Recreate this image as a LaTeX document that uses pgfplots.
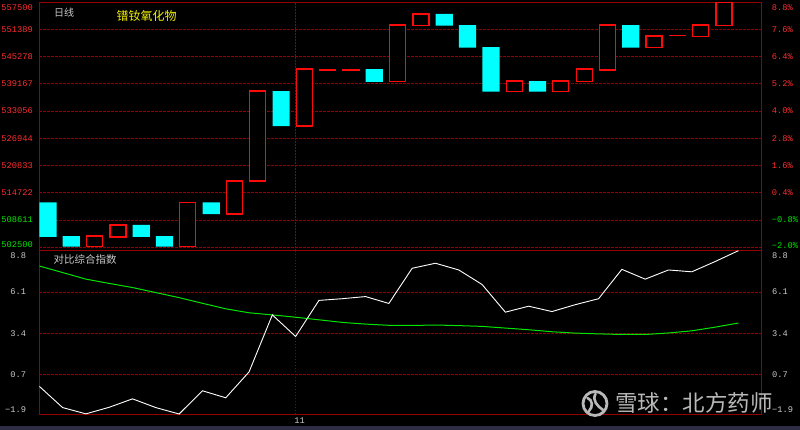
\documentclass[border=0pt]{standalone}
\usepackage{fontspec}
\setmainfont{Liberation Mono}
\newfontfamily\cjk{Noto Sans CJK SC}
\usepackage{pgfplots}
\usepackage{pgfplotstable}
\pgfplotsset{compat=1.18}

\definecolor{frame}{RGB}{150,0,0}
\definecolor{gridred}{RGB}{150,0,0}
\definecolor{upred}{RGB}{255,10,10}
\definecolor{downcyan}{RGB}{0,255,255}
\definecolor{lblred}{RGB}{255,45,45}
\definecolor{lblgreen}{RGB}{0,230,0}
\definecolor{lblgrey}{RGB}{200,200,200}
\definecolor{idxgreen}{RGB}{0,230,0}
\definecolor{titleyellow}{RGB}{240,240,0}
\definecolor{wm}{RGB}{185,185,185}
\definecolor{strip}{RGB}{45,45,70}

% daily candle bodies (price low/high of the body)
% red (close above open), drawn hollow
\pgfplotstableread{
i lo hi
2 502602 504995
3 504792 507491
6 502602 512583
8 509935 517370
9 517370 537537
11 529694 542477
12 542273 542273
13 542273 542273
15 539625 552357
16 552204 554852
20 537384 539778
22 537384 539778
23 539625 542477
24 542273 552357
26 547264 549912
27 549963 549963
28 549759 552357
29 552204 557347
}\upcandles
% cyan (close below open), drawn filled
\pgfplotstableread{
i lo hi
0 504843 512583
1 502602 504995
4 504792 507491
5 502602 504995
7 509935 512583
10 529694 537537
14 539574 542477
17 552204 554852
18 547264 552357
19 537384 547417
21 537384 539778
25 547264 552357
}\downcandles

% comparison index: white line and green line
\pgfplotstableread{
k w g
0 -0.07 7.80
1 -1.46 7.37
2 -1.87 6.94
3 -1.44 6.66
4 -0.89 6.39
5 -1.46 6.06
6 -1.88 5.73
7 -0.36 5.36
8 -0.82 5.00
9 0.87 4.74
10 4.60 4.60
11 3.19 4.45
12 5.55 4.28
13 5.66 4.11
14 5.80 4.00
15 5.35 3.92
16 7.65 3.91
17 7.98 3.94
18 7.54 3.90
19 6.59 3.85
20 4.78 3.74
21 5.17 3.63
22 4.82 3.50
23 5.27 3.41
24 5.66 3.36
25 7.58 3.32
26 6.94 3.32
27 7.54 3.42
28 7.42 3.56
29 8.09 3.80
30 8.80 4.07
}\cmpidx

\pgfplotsset{
  panel/.style={
    scale only axis, width=722.4bp,
    axis line style={frame, line width=0.8bp},
    tick style={draw=none},
    ticklabel style={font=\fontsize{8.7bp}{10bp}\selectfont, inner sep=0pt},
  },
  pricepanel/.style={panel,
    at={(39.3bp,-250.7bp)}, anchor=south west, height=248.6bp,
    xmin=-0.373, xmax=30.617, ymin=501714, ymax=557500,
  },
}

\begin{document}
\begin{tikzpicture}
\path[fill=black, use as bounding box] (0,0) rectangle (800bp,-430bp);
\fill[strip] (0,-426bp) rectangle (800bp,-430bp);

% price panel
\begin{axis}[pricepanel,
  xtick={10.63}, xticklabels={}, xmajorgrids,
  x grid style={gridred, line width=0.8bp, dash pattern=on 1.5bp off 1.5bp},
  ytick={502500,508611,514722,520833,526944,533056,539167,545278,551389,557500},
  yticklabels={\textcolor{lblgreen}{\raisebox{0bp}[0pt][0pt]{502500}},\textcolor{lblgreen}{508611},
    \textcolor{lblred}{514722},\textcolor{lblred}{520833},\textcolor{lblred}{526944},
    \textcolor{lblred}{533056},\textcolor{lblred}{539167},\textcolor{lblred}{545278},
    \textcolor{lblred}{551389},\textcolor{lblred}{\raisebox{-8.3bp}[0pt][0pt]{557500}}},
  ymajorgrids,
  y grid style={gridred, line width=0.8bp, dash pattern=on 2.5bp off 1.5bp},
  yticklabel style={anchor=east, xshift=-6.3bp},
  ybar stacked, bar width=16bp,
]
\addplot[draw=none, fill=none] table[x=i, y=lo] {\upcandles};
\addplot[draw=upred, fill=black, line width=1.25bp]
  table[x=i, y expr={max(\thisrow{hi}-\thisrow{lo},20)}] {\upcandles};
\end{axis}

\begin{axis}[pricepanel, hide axis, ybar stacked, bar width=17.2bp]
\addplot[draw=none, fill=none] table[x=i, y=lo] {\downcandles};
\addplot[draw=none, fill=downcyan]
  table[x=i, y expr=\thisrow{hi}-\thisrow{lo}] {\downcandles};
\end{axis}

% percent scale on the right
\begin{axis}[panel,
  at={(39.3bp,-250.7bp)}, anchor=south west, height=248.6bp,
  xmin=0, xmax=1, ymin=-2.156, ymax=8.8,
  axis x line=none, axis y line*=right,
  ytick={-2.0,-0.8,0.4,1.6,2.8,4.0,5.2,6.4,7.6,8.8},
  yticklabels={\textcolor{lblgreen}{\raisebox{-1bp}[0pt][0pt]{−2.0\%}},\textcolor{lblgreen}{−0.8\%},
    \textcolor{lblred}{0.4\%},\textcolor{lblred}{1.6\%},\textcolor{lblred}{2.8\%},
    \textcolor{lblred}{4.0\%},\textcolor{lblred}{5.2\%},\textcolor{lblred}{6.4\%},
    \textcolor{lblred}{7.6\%},\textcolor{lblred}{\raisebox{-8.8bp}[0pt][0pt]{8.8\%}}},
  yticklabel style={anchor=west, xshift=10bp},
]
\end{axis}

% comparison index panel
\begin{axis}[panel,
  at={(39.3bp,-414.3bp)}, anchor=south west, height=163.6bp,
  xmin=0, xmax=31, ymin=-1.9, ymax=8.8,
  xtick={11}, xticklabels={11}, xmajorgrids,
  x grid style={gridred, line width=0.8bp, dash pattern=on 1.5bp off 1.5bp},
  xticklabel style={text=lblgrey, anchor=north, xshift=4bp, yshift=-3.5bp},
  ytick={-1.9,0.7,3.4,6.1,8.8},
  yticklabels={\raisebox{1.5bp}[0pt][0pt]{−1.9},0.7,3.4,6.1,\raisebox{-8.2bp}[0pt][0pt]{8.8}},
  ymajorgrids,
  y grid style={gridred, line width=0.8bp, dash pattern=on 2.5bp off 1.5bp},
  yticklabel style={anchor=east, xshift=-13bp, text=lblgrey},
]
\addplot[idxgreen, line width=1bp] table[x=k, y=g] {\cmpidx};
\addplot[white, line width=0.9bp] table[x=k, y=w] {\cmpidx};
\end{axis}

\begin{axis}[panel,
  at={(39.3bp,-414.3bp)}, anchor=south west, height=163.6bp,
  xmin=0, xmax=1, ymin=-1.9, ymax=8.8,
  axis x line=none, axis y line*=right,
  ytick={-1.9,0.7,3.4,6.1,8.8},
  yticklabels={\raisebox{1.5bp}[0pt][0pt]{−1.9},0.7,3.4,6.1,\raisebox{-8.2bp}[0pt][0pt]{8.8}},
  yticklabel style={anchor=west, xshift=10.3bp, text=lblgrey},
]
\end{axis}

% titles
\node[anchor=west, inner sep=0pt, text=lblgrey, font=\cjk\fontsize{10bp}{12bp}\selectfont]
  at (54bp,-13bp) {日线};
\node[anchor=west, inner sep=0pt, text=titleyellow, font=\cjk\fontsize{12bp}{14bp}\selectfont]
  at (116.5bp,-16.3bp) {镨钕氧化物};
\node[anchor=west, inner sep=0pt, text=lblgrey, font=\cjk\fontsize{10.5bp}{12bp}\selectfont]
  at (53.3bp,-259bp) {对比综合指数};

% watermark
\draw[wm, line width=2.8bp] (595bp,-403.5bp) circle (12bp);
\draw[wm, line width=2.6bp, line cap=round] (587.5bp,-398bp) .. controls (593bp,-400bp) and (593bp,-407bp) .. (589bp,-411bp);
\draw[wm, line width=2.6bp, line cap=round] (595.5bp,-394bp) .. controls (592bp,-400bp) and (597bp,-406bp) .. (603bp,-410bp);
\node[anchor=west, inner sep=0pt, text=wm, font=\cjk\fontsize{22.5bp}{24bp}\selectfont]
  at (615bp,-403bp) {雪球：北方药师};
\end{tikzpicture}
\end{document}
